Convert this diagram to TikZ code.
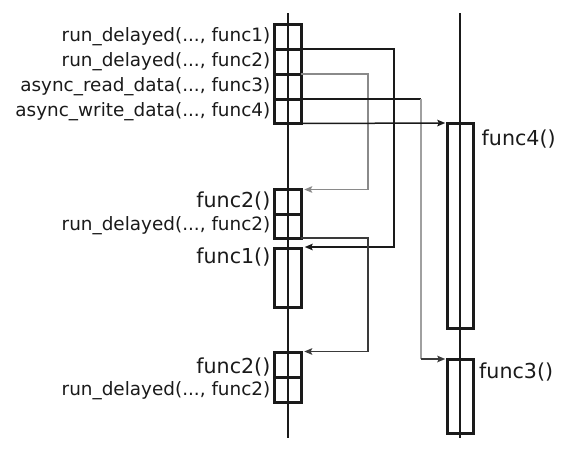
\documentclass[tikz,border=0pt]{standalone}
\usepackage{fontspec}
\setmainfont{DejaVu Sans}
\usetikzlibrary{arrows.meta}
\definecolor{ink}{HTML}{1A1A1A}
\definecolor{midgray}{HTML}{8A8A8A}
\definecolor{lightgray2}{HTML}{A0A0A0}
\definecolor{darkline}{HTML}{3A3A3A}
\tikzset{
  lifeline/.style={draw=ink, line width=2pt},
  actbox/.style={draw=ink, line width=3pt, rectangle, inner sep=0pt, outer sep=0pt, minimum width=27pt},
  small/.style={font=\fontsize{18.4}{20}\selectfont, text=ink, inner sep=0pt, anchor=base east},
  big/.style={font=\fontsize{20.6}{22}\selectfont, text=ink, inner sep=0pt},
  conn/.style={line width=1.5pt, -{Stealth[length=8pt,width=6.5pt,inset=1.5pt]}},
}
\begin{document}
\begin{tikzpicture}[x=1pt,y=-1pt]
\useasboundingbox (0,0) rectangle (566,451);
% lifelines
\coordinate (L0) at (287.7,13);
\coordinate (L1) at (287.7,438);
\coordinate (R0) at (460.3,13);
\coordinate (R1) at (460.3,438);
\draw[lifeline] (L0) -- (L1);
\draw[lifeline] (R0) -- (R1);
% top stacked boxes
\node[actbox, minimum height=25pt] (b1) at (287.7,36.5) {};
\node[actbox, minimum height=25pt] (b2) at (287.7,61.5) {};
\node[actbox, minimum height=25pt] (b3) at (287.7,86.5) {};
\node[actbox, minimum height=24.5pt] (b4) at (287.7,111.25) {};
% middle boxes
\node[actbox, minimum height=25pt] (m1) at (287.7,201.5) {};
\node[actbox, minimum height=24pt] (m2) at (287.7,226) {};
\node[actbox, minimum height=59pt] (f1) at (287.7,277.5) {};
% lower boxes
\node[actbox, minimum height=25pt] (s1) at (287.7,364.5) {};
\node[actbox, minimum height=25pt] (s2) at (287.7,389.5) {};
% right column
\node[actbox, minimum width=26pt, minimum height=205pt] (f4) at (460.3,225.5) {};
\node[actbox, minimum width=26pt, minimum height=74pt] (f3) at (460.3,396) {};
% labels
\node[small] (t1) at (270.5,41.7) {run\_delayed(..., func1)};
\node[small] (t2) at (270.5,66.5) {run\_delayed(..., func2)};
\node[small] (t3) at (270.5,91.5) {async\_read\_data(..., func3)};
\node[small] (t4) at (270.5,116.5) {async\_write\_data(..., func4)};
\node[big, anchor=base east] (t5) at (270.5,207.3) {func2()};
\node[small] (t6) at (270.5,230.7) {run\_delayed(..., func2)};
\node[big, anchor=base east] (t7) at (270.5,263.3) {func1()};
\node[big, anchor=base east] (t8) at (270.5,373.3) {func2()};
\node[small] (t9) at (270.5,395.5) {run\_delayed(..., func2)};
\node[big, anchor=base west] (t10) at (481.5,145.7) {func4()};
\node[big, anchor=base west] (t11) at (479,378) {func3()};
% connectors
\draw[conn, draw=ink] (b1.south east) -- ++(93,0) |- ([xshift=3.5pt,yshift=1pt]f1.north east);
\draw[conn, draw=midgray] (b2.south east) -- ++(67,0) |- ([xshift=3pt,yshift=-0.5pt]m1.north east);
\draw[line width=1.5pt, draw=ink] (b3.south east) -- ++(120,0) coordinate (c3);
\draw[line width=1.5pt, draw=lightgray2] (c3) -- (c3 |- f3.north west) coordinate (c3b);
\draw[conn, draw=darkline] (c3b) -- ([xshift=-2pt]f3.north west);
\draw[conn, draw=ink] (b4.south east) -- ([xshift=-2pt]f4.north west);
\draw[conn, draw=darkline] (m2.south east) -- ++(67,0) |- ([xshift=3pt,yshift=0.5pt]s1.north east);
\end{tikzpicture}
\end{document}
